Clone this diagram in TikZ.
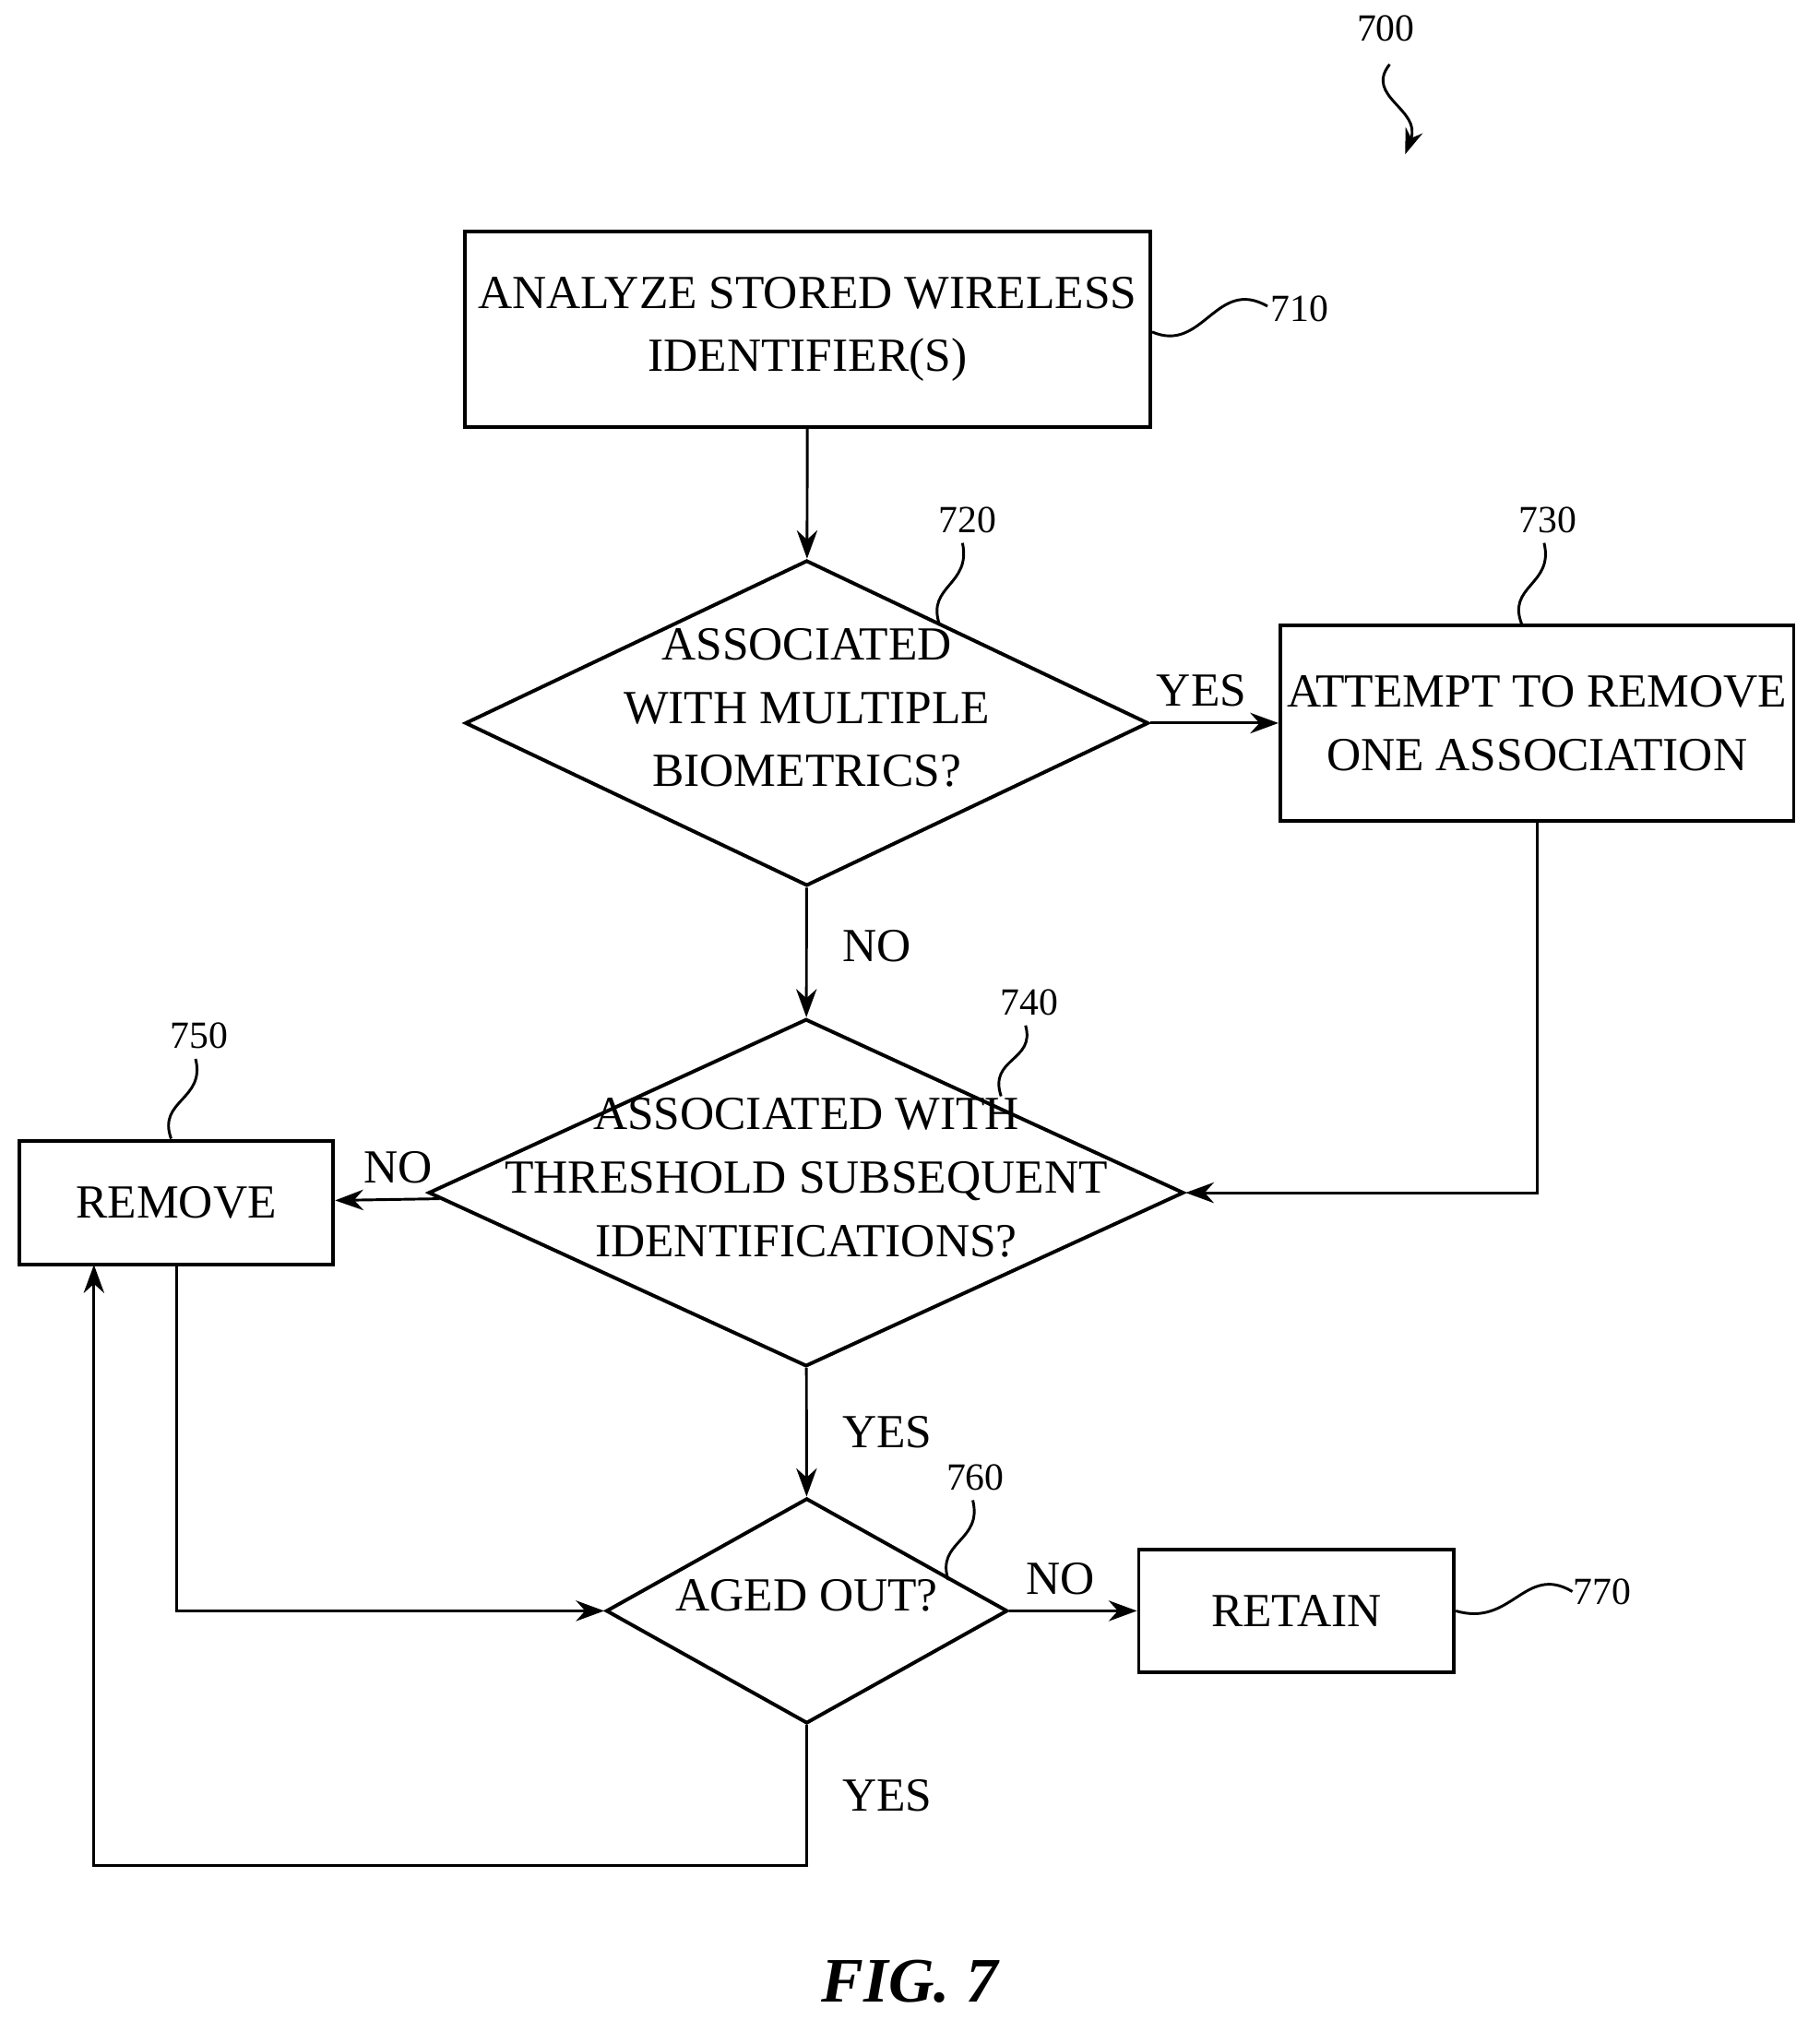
\documentclass[tikz,border=0pt]{standalone}
\usepackage{fontspec}
\setmainfont{Liberation Serif}
\usetikzlibrary{shapes.geometric,arrows.meta}
\newcommand{\dtext}[1]{\smash{\makebox[0pt]{\begin{tabular}{@{}c@{}}#1\end{tabular}}}}
\begin{document}
\begin{tikzpicture}[
    x=1cm, y=-1cm,
    box/.style={draw, thick, font=\fontsize{10.5}{14}\selectfont, align=center, inner sep=0pt},
    test/.style={diamond, draw, thick, inner sep=0pt, font=\fontsize{10.5}{14}\selectfont},
    flow/.style={-{Stealth[length=2.2mm,width=1.6mm]}, semithick},
    lbl/.style={font=\fontsize{10.5}{12}\selectfont},
    ref/.style={font=\fontsize{8.5}{10}\selectfont},
    lead/.style={semithick}
]
    \useasboundingbox (0,0) rectangle (14.14,15.70);

    % Boxes
    \node[box, minimum width=5.33cm, minimum height=1.52cm] (analyze) at (6.275,2.56) {ANALYZE STORED WIRELESS\\IDENTIFIER(S)};
    \node[test, minimum width=5.31cm, minimum height=2.53cm] (multi) at (6.27,5.62) {\dtext{ASSOCIATED\\WITH MULTIPLE\\BIOMETRICS?}};
    \node[box, minimum width=3.99cm, minimum height=1.52cm] (attempt) at (11.945,5.62) {ATTEMPT TO REMOVE\\ONE ASSOCIATION};
    \node[test, minimum width=5.87cm, minimum height=2.70cm] (thresh) at (6.265,9.27) {\dtext{ASSOCIATED WITH\\THRESHOLD SUBSEQUENT\\IDENTIFICATIONS?}};
    \node[box, minimum width=2.44cm, minimum height=0.96cm] (remove) at (1.37,9.35) {REMOVE};
    \node[test, minimum width=3.12cm, minimum height=1.75cm] (aged) at (6.27,12.52) {\dtext{AGED OUT?}};
    \node[box, minimum width=2.45cm, minimum height=0.95cm] (retain) at (10.075,12.52) {RETAIN};

    % Connectors
    \draw[flow] (analyze) -- (multi);
    \draw[flow] (multi) -- node[lbl, above, pos=0.4] {YES} (attempt);
    \draw[flow] (multi) -- node[lbl, right, pos=0.45, xshift=0.15cm] {NO} (thresh);
    \draw[flow] (attempt.south) |- (thresh.east);
    \draw[flow] (thresh) -- node[lbl, above, pos=0.4] {NO} (remove);
    \draw[flow] (thresh) -- node[lbl, right, pos=0.5, xshift=0.15cm] {YES} (aged);
    \draw[flow] (remove.south) |- (aged.west);
    \draw[flow] (aged) -- node[lbl, above, pos=0.4] {NO} (retain);
    \coordinate (loop) at (6.27,14.50);
    \draw[flow] (aged.south) -- node[lbl, right, pos=0.5, xshift=0.15cm] {YES} (loop) -| (0.73,9.83);

    % Reference numerals
    \node[ref] (n700) at (10.77,0.22) {700};
    \draw[lead, -{Stealth[length=2mm,width=1.4mm]}] (10.80,0.50) .. controls (10.6,0.75) and (11.05,0.85) .. (10.92,1.20);
    \node[ref] (n710) at (10.10,2.40) {710};
    \draw[lead] (analyze.east |- 0,2.58) .. controls (9.35,2.75) and (9.45,2.15) .. (9.85,2.38);
    \node[ref] (n720) at (7.52,4.04) {720};
    \draw[lead] (7.30,4.85) .. controls (7.20,4.55) and (7.55,4.55) .. (7.48,4.22);
    \node[ref] (n730) at (12.03,4.04) {730};
    \draw[lead] (11.83,4.86) .. controls (11.70,4.55) and (12.08,4.55) .. (12.00,4.22);
    \node[ref] (n740) at (8.00,7.79) {740};
    \draw[lead] (7.78,8.52) .. controls (7.68,8.22) and (8.05,8.25) .. (7.97,7.97);
    \node[ref] (n750) at (1.55,8.05) {750};
    \draw[lead] (1.33,8.85) .. controls (1.22,8.55) and (1.60,8.55) .. (1.52,8.23);
    \node[ref] (n760) at (7.58,11.48) {760};
    \draw[lead] (7.37,12.28) .. controls (7.27,11.98) and (7.64,11.98) .. (7.56,11.66);
    \node[ref] (n770) at (12.45,12.37) {770};
    \draw[lead] (retain.east) .. controls (11.75,12.65) and (11.85,12.15) .. (12.22,12.37);

    \node[font=\fontsize{14}{16}\selectfont\bfseries\itshape] (fig) at (7.07,15.40) {FIG. 7};
\end{tikzpicture}
\end{document}
